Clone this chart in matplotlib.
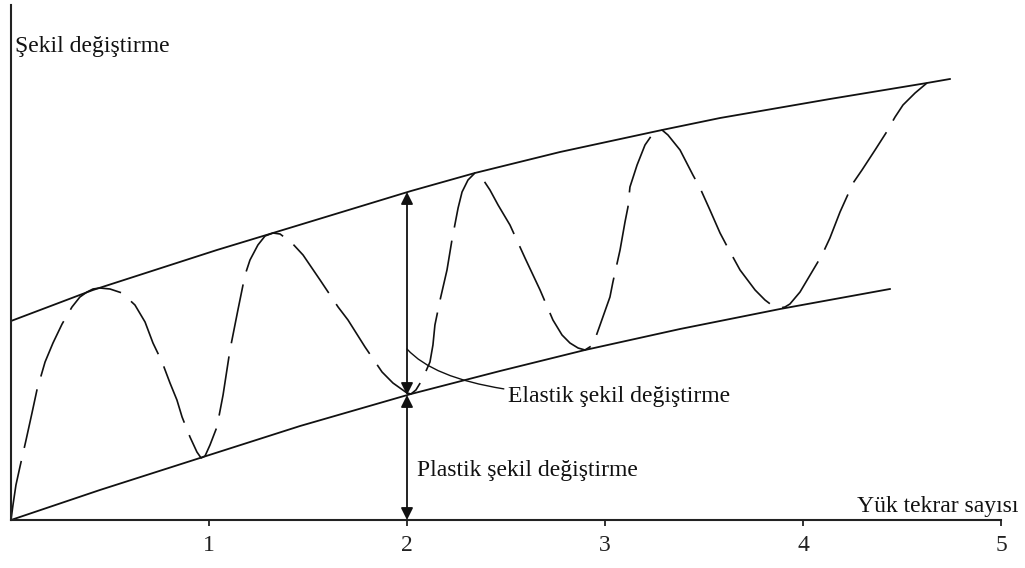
import numpy as np
import matplotlib.pyplot as plt

#--------- data (x = load repetitions, y = strain, arbitrary units) ---------
upper_x = [0.0, 0.414, 1.040, 1.323, 2.020, 2.343, 2.773, 3.288, 3.581, 4.136, 4.626, 4.742]
upper_y = [1.99, 2.30, 2.70, 2.87, 3.29, 3.47, 3.68, 3.90, 4.02, 4.21, 4.37, 4.41]

lower_x = [0.0, 0.449, 0.970, 1.460, 2.020, 2.470, 2.899, 3.379, 3.884, 4.439]
lower_y = [0.0, 0.30, 0.63, 0.94, 1.26, 1.49, 1.70, 1.91, 2.11, 2.31]

wave_x = [0.0, 0.010, 0.025, 0.045, 0.076, 0.106, 0.131, 0.172, 0.212, 0.258, 0.308, 0.348, 0.384, 0.414,
          0.449, 0.500, 0.561, 0.626, 0.677, 0.717, 0.763, 0.803, 0.838, 0.864, 0.904, 0.939, 0.960,
          0.980, 1.005, 1.040, 1.071, 1.106, 1.146, 1.182, 1.207, 1.247, 1.283, 1.323,
          1.359, 1.419, 1.475, 1.561, 1.652, 1.702, 1.788, 1.874, 1.929, 2.000, 2.020,
          2.045, 2.076, 2.116, 2.131, 2.141, 2.167, 2.202, 2.227, 2.258, 2.278, 2.308, 2.343,
          2.369, 2.419, 2.460, 2.520, 2.596, 2.672, 2.737, 2.783, 2.823, 2.864, 2.899,
          2.939, 2.975, 3.025, 3.040, 3.076, 3.101, 3.116, 3.126, 3.162, 3.202, 3.237, 3.288,
          3.318, 3.379, 3.444, 3.480, 3.530, 3.581, 3.621, 3.682, 3.758, 3.808, 3.848, 3.884,
          3.909, 3.934, 3.985, 4.045, 4.096, 4.136, 4.187, 4.253, 4.298, 4.364, 4.419, 4.465, 4.505, 4.566, 4.626]
wave_y = [0.0, 0.15, 0.35, 0.53, 0.80, 1.07, 1.30, 1.58, 1.77, 1.96, 2.13, 2.23, 2.28, 2.31,
          2.32, 2.31, 2.27, 2.15, 1.98, 1.77, 1.58, 1.37, 1.20, 1.03, 0.83, 0.68, 0.62,
          0.64, 0.75, 0.93, 1.25, 1.70, 2.10, 2.45, 2.60, 2.75, 2.84, 2.87,
          2.86, 2.77, 2.65, 2.40, 2.13, 2.00, 1.73, 1.48, 1.37, 1.27, 1.26,
          1.30, 1.40, 1.58, 1.75, 1.95, 2.20, 2.50, 2.80, 3.12, 3.28, 3.40, 3.47,
          3.45, 3.30, 3.15, 2.95, 2.62, 2.30, 2.00, 1.85, 1.77, 1.72, 1.70,
          1.75, 1.95, 2.23, 2.38, 2.70, 2.98, 3.13, 3.33, 3.55, 3.75, 3.85, 3.90,
          3.85, 3.70, 3.45, 3.32, 3.10, 2.87, 2.72, 2.50, 2.30, 2.20, 2.14, 2.12,
          2.13, 2.16, 2.28, 2.48, 2.65, 2.82, 3.08, 3.37, 3.50, 3.70, 3.87, 4.03, 4.15, 4.27, 4.37]

ticks = [1, 2, 3, 4, 5]
x_arrow = 2.0
y_top = 3.28      # upper envelope at x = 2
y_mid = 1.25      # lower envelope at x = 2

FONT = 'Liberation Serif'
FS = 17
ink = '#111111'

#--------- plotting ---------
fig = plt.figure(figsize=(10.25, 5.68), dpi=100)
ax = fig.add_axes([11/1025, 48/568, 990/1025, 515/568])
ax.set_xlim(0, 5)
ax.set_ylim(0, 5.15)

ax.plot(upper_x, upper_y, '-', color=ink, lw=1.3)
ax.plot(lower_x, lower_y, '-', color=ink, lw=1.3)
ax.plot(wave_x, wave_y, color=ink, lw=1.2, linestyle=(0, (36, 8)))

# elastic / plastic arrows
ax.annotate('', xy=(x_arrow, y_top), xytext=(x_arrow, y_mid),
            arrowprops=dict(arrowstyle='<|-|>', color=ink, lw=1.3, mutation_scale=18,
                            shrinkA=0, shrinkB=0))
ax.annotate('', xy=(x_arrow, y_mid), xytext=(x_arrow, 0),
            arrowprops=dict(arrowstyle='<|-|>', color=ink, lw=1.3, mutation_scale=18,
                            shrinkA=0, shrinkB=0))

ax.annotate('Elastik şekil değiştirme', xy=(2.0, 1.71), xytext=(2.51, 1.18),
            ha='left', va='baseline', family=FONT, fontsize=FS, color=ink,
            arrowprops=dict(arrowstyle='-', color=ink, lw=1.0, shrinkA=1, shrinkB=0,
                            connectionstyle='angle3,angleA=0,angleB=-48'))
ax.text(2.05, 0.44, 'Plastik şekil değiştirme', ha='left', va='baseline',
        family=FONT, fontsize=FS, color=ink)
ax.text(0.02, 4.68, 'Şekil değiştirme', ha='left', va='baseline',
        family=FONT, fontsize=FS, color=ink)
ax.text(5.086, 0.08, 'Yük tekrar sayısı', ha='right', va='baseline',
        family=FONT, fontsize=FS, color=ink, clip_on=False)

# axes
for s in ['top', 'right']:
    ax.spines[s].set_visible(False)
for s in ['left', 'bottom']:
    ax.spines[s].set_linewidth(1.5)
    ax.spines[s].set_color('#222222')
ax.set_xticks(ticks)
ax.set_xticklabels([str(t) for t in ticks], family=FONT, fontsize=FS)
ax.tick_params(axis='x', direction='out', length=4, width=1.3, pad=7, colors='#222222')
ax.set_yticks([])

plt.savefig('out.png', dpi=100)
